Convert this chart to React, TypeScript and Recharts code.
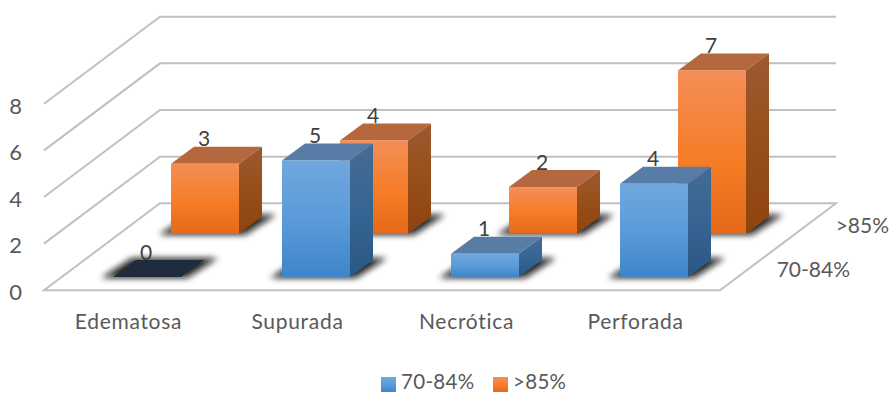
import React from "react";
import { Bar, BarChart, CartesianGrid, LabelList, Legend, XAxis, YAxis } from "recharts";

const categories = ["Edematosa", "Supurada", "Necrótica", "Perforada"];
const seriesFrontName = "70-84%";
const seriesBackName = ">85%";
const seriesFront = [0, 5, 1, 4];
const seriesBack = [3, 4, 2, 7];
const yTicks = [0, 2, 4, 6, 8];

const rows = categories.map((name, i) => ({
  name,
  front: seriesFront[i],
  back: seriesBack[i],
}));

const FONT = "Lato, 'Open Sans', sans-serif";
const BAR_W = 68;
// Depth of a box and of the whole floor, in screen pixels.
const BOX_DX = 23;
const BOX_DY = 17;
const FLOOR_DX = 116;
const FLOOR_DY = 87;
const ROW_FRONT = { dx: 18, dy: -13.3 };
const ROW_BACK = { dx: 76, dy: -56.6 };
const GRID = "#c0c0c0";

const pts = (list: number[][]) => list.map((p) => p.join(",")).join(" ");

type Palette = { face: string; top: string; side: string };
const BLUE: Palette = { face: "url(#faceBlue)", top: "#587ca6", side: "url(#sideBlue)" };
const ORANGE: Palette = { face: "url(#faceOrange)", top: "#b5673d", side: "url(#sideOrange)" };

// Extruded box: footprint shadow, front, top and right faces.
function makeBox(row: { dx: number; dy: number }, colors: Palette) {
  return function Box(props: any) {
    const { x, y, width, height } = props;
    const left = x + row.dx;
    const right = left + width;
    const top = y + row.dy;
    const bottom = top + height;
    const empty = height < 0.5;
    return (
      <g>
        <polygon
          points={pts([
            [left - 12, bottom + 1],
            [right + 6, bottom + 1],
            [right + BOX_DX + 14, bottom - BOX_DY - 2],
            [left + BOX_DX - 4, bottom - BOX_DY - 2],
          ])}
          fill="#111"
          opacity={0.9}
          filter="url(#floorShadow)"
        />
        <polygon
          points={pts([
            [left, top],
            [right, top],
            [right + BOX_DX, top - BOX_DY],
            [left + BOX_DX, top - BOX_DY],
          ])}
          fill={empty ? "#1f2c3d" : colors.top}
        />
        {!empty && (
          <>
            <polygon
              points={pts([
                [right, top],
                [right + BOX_DX, top - BOX_DY],
                [right + BOX_DX, bottom - BOX_DY],
                [right, bottom],
              ])}
              fill={colors.side}
            />
            <rect x={left} y={top} width={width} height={height} fill={colors.face} />
          </>
        )}
      </g>
    );
  };
}

function makeValueLabel(row: { dx: number; dy: number }) {
  return function ValueLabel(props: any) {
    const { x, y, width, value } = props;
    return (
      <text
        x={x + row.dx + width / 2 - 1}
        y={y + row.dy - BOX_DY - 0.5}
        textAnchor="middle"
        fontFamily={FONT}
        fontSize={21}
        fill="#404040"
      >
        {value}
      </text>
    );
  };
}

// Each horizontal grid value becomes a wall line plus a back line; value 0 is the floor.
function GridLine(props: any) {
  const { x1, x2, y1, index } = props;
  const bx1 = x1 + FLOOR_DX;
  const bx2 = x2 + FLOOR_DX;
  const by = y1 - FLOOR_DY;
  const common = { stroke: GRID, strokeWidth: 2, fill: "none" };
  if (y1 > 280) {
    return (
      <g key={`grid-${index}`}>
        <polygon points={pts([[x1, y1], [x2, y1], [bx2, by], [bx1, by]])} {...common} fill="#fff" />
        <text x={889} y={233} textAnchor="end" fontFamily={FONT} fontSize={21} fill="#595959">
          {seriesBackName}
        </text>
        <text x={850} y={277} textAnchor="end" fontFamily={FONT} fontSize={21} fill="#595959">
          {seriesFrontName}
        </text>
      </g>
    );
  }
  return (
    <g key={`grid-${index}`}>
      <polyline points={pts([[x1, y1], [bx1, by], [bx2, by]])} {...common} />
    </g>
  );
}

function LegendRow(props: any) {
  const items = [...(props.payload ?? [])].sort((a: any) => (a.value === seriesFrontName ? -1 : 1));
  const lefts = [381, 493];
  return (
    <div>
      {items.map((item: any, i: number) => (
        <div
          key={item.value}
          style={{
            position: "absolute",
            left: lefts[i],
            top: 369,
            height: 24,
            display: "flex",
            alignItems: "center",
            fontFamily: FONT,
            fontSize: 20.5,
            letterSpacing: 0.3,
            lineHeight: "24px",
            color: "#595959",
            whiteSpace: "nowrap",
          }}
        >
          <svg width={15} height={15} style={{ marginRight: 5, marginTop: 6 }}>
            <rect width={15} height={15} fill={item.value === seriesFrontName ? "url(#faceBlue)" : "url(#faceOrange)"} />
          </svg>
          {item.value}
        </div>
      ))}
    </div>
  );
}

export default function App() {
  return (
    <div style={{ position: "absolute", left: 0, top: 0, width: 890, height: 394 }}>
      <BarChart
        width={890}
        height={394}
        data={rows}
        barSize={BAR_W}
        barGap={-BAR_W}
        margin={{ top: 103.7, right: 170, bottom: 73.7, left: 0 }}
      >
        <defs>
          <linearGradient id="faceBlue" x1="0" y1="0" x2="0" y2="1">
            <stop offset="0" stopColor="#71a7df" />
            <stop offset="0.5" stopColor="#5b9bd9" />
            <stop offset="1" stopColor="#3f85ca" />
          </linearGradient>
          <linearGradient id="sideBlue" x1="0" y1="0" x2="0" y2="1">
            <stop offset="0" stopColor="#446b94" />
            <stop offset="0.5" stopColor="#376593" />
            <stop offset="1" stopColor="#2a5783" />
          </linearGradient>
          <linearGradient id="faceOrange" x1="0" y1="0" x2="0" y2="1">
            <stop offset="0" stopColor="#f48e58" />
            <stop offset="0.55" stopColor="#f67c26" />
            <stop offset="1" stopColor="#e56a19" />
          </linearGradient>
          <linearGradient id="sideOrange" x1="0" y1="0" x2="0" y2="1">
            <stop offset="0" stopColor="#9c5a32" />
            <stop offset="0.5" stopColor="#984e18" />
            <stop offset="1" stopColor="#8f440f" />
          </linearGradient>
          <filter id="floorShadow" x="-30%" y="-60%" width="160%" height="220%">
            <feGaussianBlur stdDeviation="3.2" />
          </filter>
        </defs>
        <CartesianGrid vertical={false} horizontal={GridLine as any} horizontalValues={yTicks} />
        <XAxis
          dataKey="name"
          height={30}
          axisLine={false}
          tickLine={false}
          interval={0}
          tickMargin={18}
          tick={{ fontFamily: FONT, fontSize: 21, fill: "#595959", letterSpacing: 0.7 }}
        />
        <YAxis
          domain={[0, 8]}
          ticks={yTicks}
          axisLine={false}
          tickLine={false}
          width={44}
          tickMargin={16}
          tick={{ fontFamily: FONT, fontSize: 22, fill: "#595959", dy: 2 }}
        />
        <Bar
          dataKey="back"
          name={seriesBackName}
          fill="#f67c26"
          shape={makeBox(ROW_BACK, ORANGE)}
          isAnimationActive={false}
        >
          <LabelList dataKey="back" content={makeValueLabel(ROW_BACK)} />
        </Bar>
        <Bar
          dataKey="front"
          name={seriesFrontName}
          fill="#5b9bd9"
          shape={makeBox(ROW_FRONT, BLUE)}
          isAnimationActive={false}
        >
          <LabelList dataKey="front" content={makeValueLabel(ROW_FRONT)} />
        </Bar>
        <Legend content={LegendRow as any} wrapperStyle={{ position: "static" }} />
      </BarChart>
    </div>
  );
}
